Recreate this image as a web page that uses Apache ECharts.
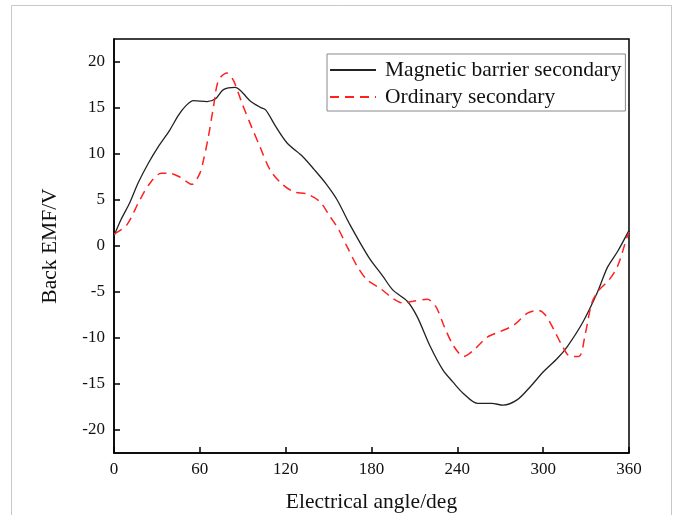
<!DOCTYPE html>
<html>
<head>
<meta charset="utf-8">
<script src="https://cdn.jsdelivr.net/npm/echarts@6/dist/echarts.min.js"></script>
<style>html,body{margin:0;padding:0;background:#fff}#c{width:675px;height:515px}</style>
</head>
<body>
<div id="c"></div>
<script>
const seriesNames = ['Magnetic barrier secondary', 'Ordinary secondary'];
const xTicks = [0, 60, 120, 180, 240, 300, 360];
const yTicks = [-20, -15, -10, -5, 0, 5, 10, 15, 20];
const barrierAngle = [0, 5, 11, 17, 24, 31, 39, 45, 50, 55.5, 65, 71, 76.5, 84.7, 95, 102, 106, 113, 121, 132, 140, 148, 156, 165, 178, 188, 195, 205, 212, 221, 230, 237, 244, 254, 264, 272, 282, 291, 300, 310, 317, 328, 338, 345, 352, 360];
const barrierValue = [1.1, 2.9, 4.7, 6.9, 9.0, 10.8, 12.6, 14.2, 15.2, 15.8, 15.7, 16.0, 17.0, 17.25, 15.8, 15.1, 14.8, 13.0, 11.2, 9.7, 8.3, 6.8, 5.0, 2.3, -1.2, -3.3, -4.8, -6.0, -7.7, -10.9, -13.5, -14.8, -16.0, -17.1, -17.1, -17.3, -16.7, -15.3, -13.7, -12.2, -10.9, -8.2, -5.0, -2.3, -0.6, 1.7];
const ordinaryAngle = [0, 9, 18, 25, 33, 39, 46, 54.5, 60, 62.5, 66, 69.5, 73, 79, 83.5, 89.5, 96, 102, 109, 117, 125.5, 135, 144, 151, 157, 163, 170, 177, 186, 195, 202, 209, 219, 225, 231, 237.5, 244.5, 251.5, 261, 270, 279.5, 289, 297, 301.5, 307.5, 313.5, 319, 325, 329.5, 334, 339, 346, 352, 358.7, 360];
const ordinaryValue = [1.3, 2.3, 5.0, 6.8, 7.9, 7.9, 7.5, 6.7, 7.9, 9.3, 11.9, 15.1, 18.0, 18.8, 18.0, 15.5, 13.0, 10.8, 8.3, 6.8, 5.9, 5.65, 4.8, 3.2, 1.8, -0.1, -2.2, -3.7, -4.6, -5.7, -6.2, -6.0, -5.8, -6.6, -8.8, -10.9, -12.0, -11.3, -9.9, -9.3, -8.6, -7.3, -7.0, -7.5, -9.1, -10.9, -12.0, -12.0, -9.5, -6.2, -4.8, -3.7, -2.2, 1.0, 1.5];

const font = '"Liberation Serif", "Times New Roman", serif';
const toPairs = (xs, ys) => xs.map((x, i) => [x, ys[i]]);

const chart = echarts.init(document.getElementById('c'), null, {renderer: 'canvas'});
chart.setOption({
  animation: false,
  backgroundColor: '#fff',
  graphic: [{
    type: 'polyline', silent: true,
    shape: {points: [[11.5, 520], [11.5, 5.5], [671.5, 5.5], [671.5, 520]]},
    style: {stroke: '#c8c8c8', lineWidth: 1, fill: null}
  }],
  grid: {left: 114, top: 39, right: 46, bottom: 62, show: true, borderColor: '#000', borderWidth: 1.5,
    containLabel: false, outerBoundsMode: 'none'},
  legend: {
    data: seriesNames,
    orient: 'vertical',
    left: 327, top: 54,
    padding: [5, 4, 3, 2],
    itemGap: 5,
    itemWidth: 46, itemHeight: 22,
    borderColor: '#888', borderWidth: 1,
    itemStyle: {opacity: 0},
    textStyle: {fontFamily: font, fontSize: 21.5, color: '#111', padding: [0, 0, 0, 4]}
  },
  xAxis: {
    type: 'value', min: 0, max: 360, interval: 60,
    name: 'Electrical angle/deg', nameLocation: 'middle', nameGap: 38,
    nameTextStyle: {fontFamily: font, fontSize: 21.5, color: '#111'},
    axisLine: {show: true, onZero: false, lineStyle: {color: '#000', width: 1.5}},
    axisTick: {show: true, inside: true, length: 6, lineStyle: {color: '#000', width: 1.5}},
    axisLabel: {fontFamily: font, fontSize: 17, color: '#111', margin: 8},
    splitLine: {show: false}
  },
  yAxis: {
    type: 'value', min: -22.5, max: 22.5,
    name: 'Back EMF/V', nameLocation: 'middle', nameGap: 53,
    nameTextStyle: {fontFamily: font, fontSize: 21.5, color: '#111'},
    axisLine: {show: true, onZero: false, lineStyle: {color: '#000', width: 1.5}},
    axisTick: {show: true, inside: true, length: 6, lineStyle: {color: '#000', width: 1.5},
      customValues: yTicks},
    axisLabel: {fontFamily: font, fontSize: 17, color: '#111', margin: 9, customValues: yTicks},
    splitLine: {show: false}
  },
  series: [{
    name: seriesNames[0], type: 'line', data: toPairs(barrierAngle, barrierValue),
    smooth: 0.3, showSymbol: false, symbol: 'none',
    lineStyle: {color: '#222', width: 1.3, type: 'solid'},
    itemStyle: {color: '#222'}
  }, {
    name: seriesNames[1], type: 'line', data: toPairs(ordinaryAngle, ordinaryValue),
    smooth: 0.3, showSymbol: false, symbol: 'none',
    lineStyle: {color: '#ff2020', width: 1.5, type: [9, 6]},
    itemStyle: {color: '#ff2020'}
  }]
});
</script>
</body>
</html>
